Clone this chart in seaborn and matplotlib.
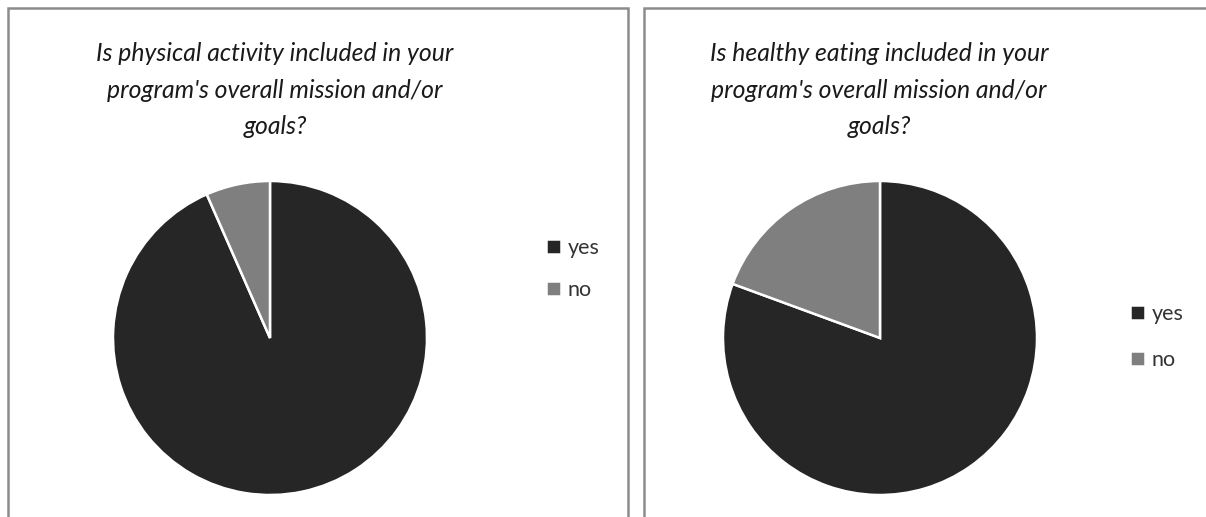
import matplotlib
matplotlib.use("Agg")
import matplotlib.pyplot as plt
from matplotlib.patches import Rectangle
import seaborn as sns

# Survey answers (percent of programs)
labels = ['yes', 'no']
activity_share = [93.4, 6.6]
eating_share = [80.6, 19.4]

titles = [
    "Is physical activity included in your\nprogram's overall mission and/or\ngoals?",
    "Is healthy eating included in your\nprogram's overall mission and/or\ngoals?",
]
colors = ['#262626', '#7f7f7f']

W, H = 1206, 517

sns.set_theme(style='white')
plt.rcParams['font.family'] = ['Lato', 'DejaVu Sans']


def px_box(x0, y0, x1, y1):
    # pixel box (top-left origin) -> figure fraction rect
    return [x0 / W, 1 - y1 / H, (x1 - x0) / W, (y1 - y0) / H]


def draw_panel(fig, shares, title, pie_cx, title_x, legend_x, legend_y, spacing):
    r = 157
    ax = fig.add_axes(px_box(pie_cx - r, 338 - r, pie_cx + r, 338 + r))
    wedges, _ = ax.pie(shares, colors=colors, startangle=90, counterclock=False,
                       wedgeprops=dict(edgecolor='white', linewidth=1.8))
    ax.set_xlim(-1, 1)
    ax.set_ylim(-1, 1)
    ax.set_aspect('equal')
    ax.axis('off')

    fig.text(title_x / W, 1 - 42 / H, title, ha='center', va='top',
             fontsize=17.8, style='italic', color='#1a1a1a', linespacing=1.72)

    fig.legend(wedges, labels, loc='center left',
               bbox_to_anchor=(legend_x / W, 1 - legend_y / H),
               frameon=False, fontsize=15.5, handlelength=0.7, handleheight=0.7,
               handletextpad=0.3, labelspacing=spacing, borderpad=0, borderaxespad=0,
               labelcolor='#333333')


fig = plt.figure(figsize=(W / 100, H / 100), dpi=100)

# panel frames
for x0, x1 in [(8, 628), (644, 1220)]:
    fig.patches.append(Rectangle((x0 / W, -0.05), (x1 - x0) / W, 1 - 8 / H + 0.05,
                                 transform=fig.transFigure, fill=False,
                                 edgecolor='#8c8c8c', linewidth=1.8))

draw_panel(fig, activity_share, titles[0], 270, 275, 546, 269, 1.0)
draw_panel(fig, eating_share, titles[1], 880, 879, 1130, 337, 1.22)

fig.savefig('out.png', dpi=100)
